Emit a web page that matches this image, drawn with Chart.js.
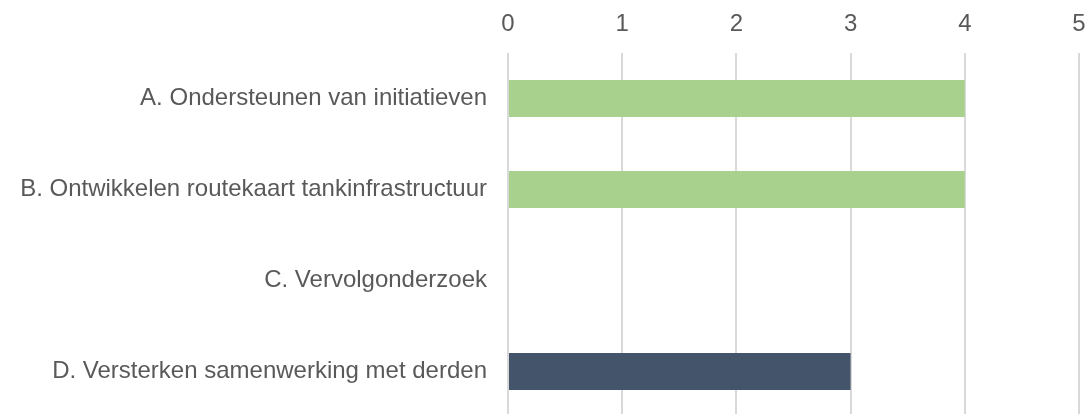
<!DOCTYPE html>
<html>
<head>
<meta charset="utf-8">
<script src="https://cdn.jsdelivr.net/npm/chart.js@4"></script>
<style>
  html, body { margin: 0; padding: 0; background: #ffffff; overflow: hidden; }
  #wrap { width: 1088px; height: 417px; position: relative; }
</style>
</head>
<body>
<div id="wrap"><canvas id="actionChart"></canvas></div>
<script>
// Chart data
const categories = [
    'A. Ondersteunen van initiatieven',
    'B. Ontwikkelen routekaart tankinfrastructuur',
    'C. Vervolgonderzoek',
    'D. Versterken samenwerking met derden'
];
const scores = [4, 4, 0, 3];
const barColors = ['#A9D18E', '#A9D18E', '#A9D18E', '#44546A'];
const xTicks = [0, 1, 2, 3, 4, 5];

const textColor = '#595959';
const fontFamily = 'Liberation Sans, Arial, sans-serif';

// drop the extra edge padding Chart.js adds for tick labels
function noEdgePadding(axis) {
    axis.paddingTop = 0;
    axis.paddingBottom = 0;
    axis.paddingLeft = 0;
    axis.paddingRight = 0;
}

const ctx = document.getElementById('actionChart');

new Chart(ctx, {
    type: 'bar',
    data: {
        labels: categories,
        datasets: [{
            data: scores,
            backgroundColor: barColors,
            borderWidth: 0,
            barPercentage: 0.407,
            categoryPercentage: 1
        }]
    },
    options: {
        indexAxis: 'y',
        responsive: true,
        maintainAspectRatio: false,
        animation: false,
        layout: { padding: { top: 0, right: 9, bottom: 0, left: 0 } },
        plugins: {
            legend: { display: false },
            tooltip: { enabled: false }
        },
        scales: {
            x: {
                position: 'top',
                min: xTicks[0],
                max: xTicks[xTicks.length - 1],
                afterBuildTicks: axis => { axis.ticks = xTicks.map(v => ({ value: v })); },
                afterFit: axis => { axis.height = 53; noEdgePadding(axis); },
                grid: { color: '#D9D9D9', lineWidth: 2, drawTicks: false },
                border: { display: false },
                ticks: {
                    color: textColor,
                    padding: 14,
                    font: { family: fontFamily, size: 24 }
                }
            },
            y: {
                afterFit: axis => { axis.width = 508; noEdgePadding(axis); },
                grid: { display: false, drawTicks: false },
                border: { display: false },
                ticks: {
                    color: textColor,
                    padding: 21,
                    font: { family: fontFamily, size: 24 }
                }
            }
        }
    }
});
</script>
</body>
</html>
